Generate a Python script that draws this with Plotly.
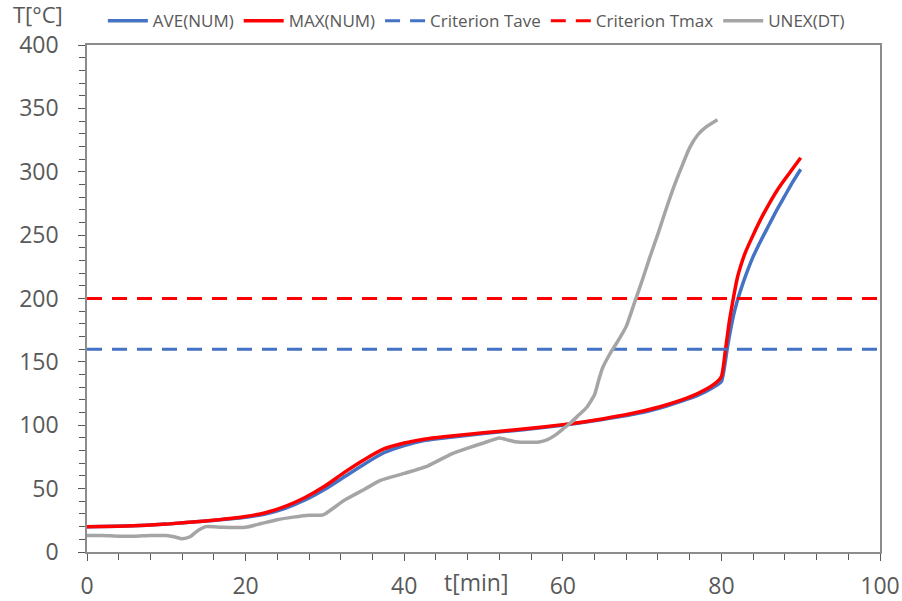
import plotly.graph_objects as go

# Time axis (minutes) and temperature series (deg C)
t_num_max = [0, 5, 10, 15, 20, 22.5, 25, 27.5, 30, 32.5, 35, 37.5, 40, 42.5, 45, 50, 55, 60, 65, 70,
             73, 75, 77, 79, 80, 80.5, 81, 81.5, 82, 82.5, 83, 84, 85, 86, 87, 88, 89, 90]
T_max_num = [20, 20.5, 22, 24.5, 28, 31, 36, 43, 52, 63, 73, 81.5, 86, 89, 91, 94, 97, 100.5, 105, 111,
             116, 120, 125, 132, 138.5, 159, 182, 200, 216, 227, 236, 250, 263, 274.5, 285, 294, 302.5, 311]

t_num_ave = [0, 5, 10, 15, 20, 22.5, 25, 27.5, 30, 32.5, 35, 37.5, 40, 42.5, 45, 50, 55, 60, 65, 70,
             73, 75, 77, 79, 80, 80.7, 81, 81.5, 82, 82.5, 83, 84, 85, 86, 87, 88, 89, 90]
T_ave_num = [20, 20.5, 22, 24.5, 27.5, 30, 34.5, 41, 49.5, 59.5, 69.5, 78.5, 84, 88, 90, 93.5, 96.5, 100, 104.5, 110,
             115, 119, 123.5, 130, 134.5, 159, 170, 186, 198, 208, 217, 233, 246, 258, 270, 281, 292, 302]

t_unex = [0, 2, 4, 6, 8, 10, 11, 12, 13, 14, 15, 17, 20, 22, 24, 26, 28, 29.5, 30, 32.5, 35, 37, 40, 43,
          46, 48, 50, 52, 53, 54, 56, 57, 58, 59, 60, 61, 62, 63, 64, 64.5, 65, 66, 67, 68, 69, 70, 71,
          72, 73, 74, 75, 76, 77, 78, 79.5]
T_unex = [13, 13, 12.5, 12.5, 13, 13, 12, 10.5, 12, 17, 20, 19.5, 19.5, 22.5, 25.5, 27.5, 29, 29, 30, 41,
          49.5, 56.5, 62, 68, 77.5, 82, 86, 90, 88.5, 87, 86.5, 86.8, 88.5, 92, 97, 102, 108, 114, 124, 135,
          145, 157, 167, 178, 196, 214, 233, 251, 270, 288, 304, 319, 329, 335, 341]

# Acceptance criteria
crit_range = [0, 100]
crit_tave = 160
crit_tmax = 200

BLUE = "#4472C4"
RED = "#FF0000"
GRAY = "#A5A5A5"
TXT = "#595959"
FONT = "Open Sans, Noto Sans, sans-serif"
SMOOTH = dict(shape="spline", smoothing=0.5)

fig = go.Figure()
fig.add_trace(go.Scatter(x=t_num_ave, y=T_ave_num, mode="lines", name="AVE(NUM)",
                         line=dict(color=BLUE, width=3.5, **SMOOTH)))
fig.add_trace(go.Scatter(x=t_num_max, y=T_max_num, mode="lines", name="MAX(NUM)",
                         line=dict(color=RED, width=3.5, **SMOOTH)))
fig.add_trace(go.Scatter(x=crit_range, y=[crit_tave] * 2, mode="lines", name="Criterion Tave",
                         line=dict(color=BLUE, width=3, dash="15px,10px")))
fig.add_trace(go.Scatter(x=crit_range, y=[crit_tmax] * 2, mode="lines", name="Criterion Tmax",
                         line=dict(color=RED, width=3, dash="15px,10px")))
fig.add_trace(go.Scatter(x=t_unex, y=T_unex, mode="lines", name="UNEX(DT)",
                         line=dict(color=GRAY, width=3.5, **SMOOTH)))

axis_common = dict(showgrid=False, zeroline=False, showline=True, linecolor="#8C8C8C",
                   linewidth=1.5, mirror=True, ticks="outside", tickcolor="#595959",
                   tickwidth=1, automargin=False,
                   tickfont=dict(family=FONT, size=23, color=TXT))

fig.update_xaxes(range=[0, 100], tick0=0, dtick=20, ticklen=7,
                 minor=dict(ticks="outside", dtick=4, ticklen=6, tickcolor="#595959"),
                 ticklabelstandoff=6, **axis_common)
fig.update_yaxes(range=[0, 400], tick0=0, dtick=50, ticklen=7,
                 minor=dict(ticks="outside", dtick=10, ticklen=6, tickcolor="#595959"),
                 ticklabelstandoff=15, **axis_common)

fig.add_annotation(text="t[min]", x=49.1, y=-0.059, xref="x", yref="paper", showarrow=False,
                   font=dict(family=FONT, size=23, color=TXT), yanchor="middle")
fig.add_annotation(text="T[°C]", x=-0.062, y=1.062, xref="paper", yref="paper", showarrow=False,
                   font=dict(family=FONT, size=22, color=TXT), xanchor="center", yanchor="middle")

fig.update_layout(
    width=902, height=601,
    margin=dict(l=87, r=22, t=45, b=49, autoexpand=False),
    plot_bgcolor="white", paper_bgcolor="white",
    font=dict(family=FONT, color=TXT),
    legend=dict(orientation="h", x=0.02, y=1.047, xanchor="left", yanchor="middle",
                font=dict(family=FONT, size=17, color=TXT), itemwidth=40,
                bgcolor="rgba(0,0,0,0)", tracegroupgap=0),
)

fig.write_html("out.html")
